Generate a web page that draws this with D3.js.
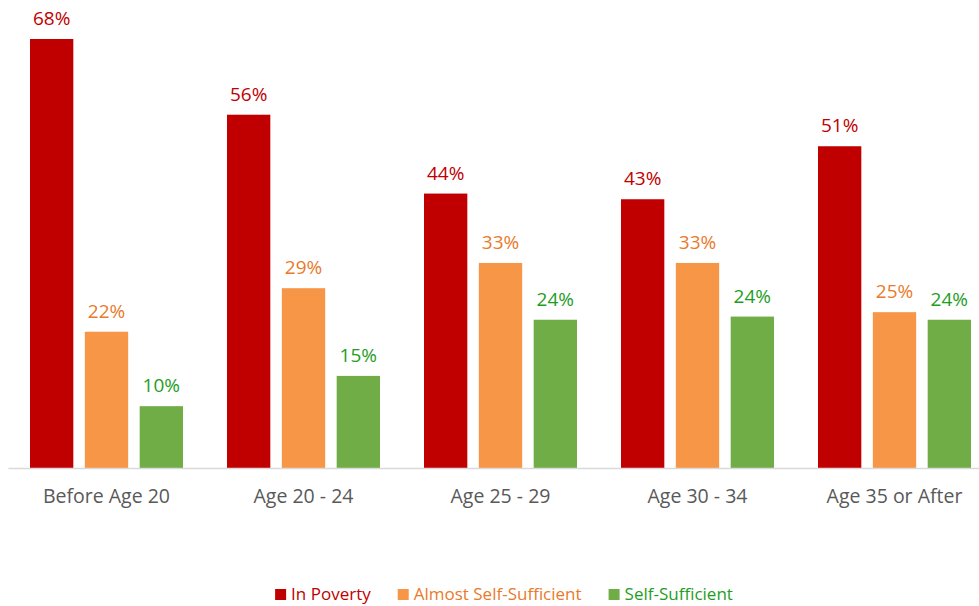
<!DOCTYPE html>
<html>
<head>
<meta charset="utf-8">
<script src="https://cdn.jsdelivr.net/npm/d3@7"></script>
<style>
  body { margin: 0; background: #fff; }
  svg { display: block; font-family: "Open Sans", sans-serif; }
</style>
</head>
<body>
<div id="chart"></div>
<script>
// categories and series (percent)
const categories = ["Before Age 20", "Age 20 - 24", "Age 25 - 29", "Age 30 - 34", "Age 35 or After"];
const seriesNames = ["In Poverty", "Almost Self-Sufficient", "Self-Sufficient"];
const inPoverty = [68, 56, 43.5, 42.6, 51];
const almostSelfSufficient = [21.6, 28.5, 32.5, 32.5, 24.7];
const selfSufficient = [9.8, 14.6, 23.5, 24, 23.5];

const barColors = ["#C00000", "#F79646", "#70AD47"];
const labelColors = ["#C00000", "#E97A2B", "#1E9E1E"];

const width = 979, height = 606;
const baseY = 468, topY = 39;

const values = [inPoverty, almostSelfSufficient, selfSufficient];
const data = categories.map((c, i) => ({
  cat: c,
  vals: values.map((s, k) => ({ key: k, value: s[i] }))
}));

const svg = d3.select("#chart").append("svg")
  .attr("width", width)
  .attr("height", height);

const x0 = d3.scaleBand()
  .domain(categories)
  .range([8, 993])
  .padding(0);

const x1 = d3.scaleBand()
  .domain(d3.range(seriesNames.length))
  .range([22, x0.bandwidth() - 22])
  .paddingInner(0.21);

const y = d3.scaleLinear()
  .domain([0, d3.max(inPoverty)])
  .range([baseY, topY]);

const groups = svg.append("g")
  .selectAll("g")
  .data(data)
  .enter().append("g")
    .attr("transform", d => "translate(" + x0(d.cat) + ",0)");

groups.selectAll("rect")
  .data(d => d.vals)
  .enter().append("rect")
    .attr("x", d => x1(d.key))
    .attr("y", d => y(d.value))
    .attr("width", x1.bandwidth())
    .attr("height", d => y(0) - y(d.value))
    .attr("fill", d => barColors[d.key]);

groups.selectAll("text.val")
  .data(d => d.vals)
  .enter().append("text")
    .attr("class", "val")
    .attr("x", d => x1(d.key) + x1.bandwidth() / 2)
    .attr("y", d => y(d.value) - 14)
    .attr("text-anchor", "middle")
    .attr("font-size", 19)
    .attr("fill", d => labelColors[d.key])
    .text(d => Math.round(d.value) + "%");

// axis baseline
const xAxis = svg.append("g")
  .attr("transform", "translate(0," + baseY + ")")
  .call(d3.axisBottom(x0).tickSize(0).tickPadding(21));
xAxis.select(".domain").attr("stroke", "#D9D9D9").attr("stroke-width", 1.5);
xAxis.selectAll("text")
  .attr("font-family", "'Open Sans', sans-serif")
  .attr("font-size", 19.5)
  .attr("fill", "#595959");

// legend
const legend = svg.append("g")
  .attr("font-size", 17);

const items = legend.selectAll("g")
  .data(seriesNames)
  .enter().append("g");

items.append("rect")
  .attr("width", 11)
  .attr("height", 11)
  .attr("y", 589)
  .attr("fill", (d, i) => barColors[i]);

items.append("text")
  .attr("x", 16)
  .attr("y", 600)
  .attr("fill", (d, i) => labelColors[i])
  .text(d => d);

let widths = [];
items.each(function () {
  widths.push(16 + d3.select(this).select("text").node().getComputedTextLength());
});
const gap = 27;
const total = d3.sum(widths) + gap * (widths.length - 1);
let xpos = 504 - total / 2;
items.attr("transform", (d, i) => {
  const t = "translate(" + xpos + ",0)";
  xpos += widths[i] + gap;
  return t;
});
</script>
</body>
</html>
